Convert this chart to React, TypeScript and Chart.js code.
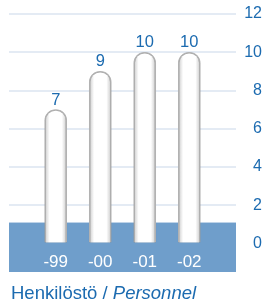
import React, { useEffect, useRef } from "react";
import { Chart, registerables } from "chart.js";

Chart.register(...registerables);

const categories = ["-99", "-00", "-01", "-02"];
const values = [7, 9, 10, 10];
const yTicks = [0, 2, 4, 6, 8, 10, 12];
const bandTopValue = 1.1;

const BLUE_TEXT = "#1c6bb0";
const BAND = "#6f9ecb";
const GRID = "#e4ebf4";
const FONT = "'Liberation Sans', Arial, sans-serif";

const bandPlugin = {
  id: "band",
  beforeDatasetsDraw(chart: any) {
    const { ctx, chartArea, scales } = chart;
    const top = scales.y.getPixelForValue(bandTopValue);
    ctx.save();
    ctx.fillStyle = BAND;
    ctx.fillRect(chartArea.left, top, chartArea.right - chartArea.left, 272 - top);
    ctx.restore();
  },
  beforeDatasetDraw(chart: any) {
    const ctx = chart.ctx;
    ctx.save();
    ctx.shadowColor = "rgba(0,0,0,0.3)";
    ctx.shadowBlur = 2;
  },
  afterDatasetDraw(chart: any) {
    chart.ctx.restore();
  },
  afterDatasetsDraw(chart: any) {
    const { ctx } = chart;
    const meta = chart.getDatasetMeta(0);
    ctx.save();
    ctx.fillStyle = BLUE_TEXT;
    ctx.font = `16.5px ${FONT}`;
    ctx.textAlign = "center";
    ctx.textBaseline = "alphabetic";
    meta.data.forEach((el: any, i: number) => {
      ctx.fillText(String(values[i]), el.x, el.y - 5);
    });
    ctx.restore();
  },
};

export default function App() {
  const ref = useRef<HTMLCanvasElement>(null);
  useEffect(() => {
    document.body.style.margin = "0";
    const chart = new Chart(ref.current!, {
      type: "bar",
      data: {
        datasets: [
          {
            data: values.map((v, i) => ({ x: i, y: v })),
            backgroundColor: (c: any) => {
              const chartRef = c.chart;
              const xs = chartRef.scales && chartRef.scales.x;
              if (!xs || !c.parsed) return "#ffffff";
              const cx = xs.getPixelForValue(c.parsed.x);
              if (!isFinite(cx)) return "#ffffff";
              const g = chartRef.ctx.createLinearGradient(cx - 11, 0, cx + 11, 0);
              g.addColorStop(0, "#c9c9c9");
              g.addColorStop(0.22, "#ffffff");
              g.addColorStop(0.78, "#ffffff");
              g.addColorStop(1, "#c9c9c9");
              return g;
            },
            borderColor: "#bcbcbc",
            borderWidth: 1.5,
            borderSkipped: "bottom",
            borderRadius: { topLeft: 11, topRight: 11, bottomLeft: 0, bottomRight: 0 },
            barThickness: 22,
          },
        ],
      },
      options: {
        animation: false,
        responsive: false,
        maintainAspectRatio: false,
        layout: { padding: { left: 9, right: 2, top: 14, bottom: 5 } },
        plugins: { legend: { display: false }, tooltip: { enabled: false }, title: { display: false } },
        scales: {
          x: {
            type: "linear",
            min: -1.05,
            max: 4.05,
            offset: false,
            grid: { display: false, drawTicks: false },
            border: { display: false },
            afterBuildTicks: (s: any) => {
              s.ticks = categories.map((_, i) => ({ value: i }));
            },
            ticks: {
              z: 1,
              color: "#ffffff",
              padding: 9,
              font: { size: 17, family: FONT },
              callback: (v: any) => categories[v as number] ?? "",
              maxRotation: 0,
              autoSkip: false,
            },
          },
          y: {
            position: "right",
            min: 0,
            max: 12,
            afterBuildTicks: (s: any) => {
              s.ticks = yTicks.map((v) => ({ value: v }));
            },
            afterFit: (s: any) => {
              s.width = 26;
            },
            grid: {
              color: (c: any) => (c.tick && c.tick.value === 0 ? "rgba(0,0,0,0)" : GRID),
              lineWidth: 2,
              drawTicks: false,
            },
            border: { display: false },
            ticks: {
              color: BLUE_TEXT,
              padding: 0,
              crossAlign: "far",
              font: { size: 16, family: FONT },
            },
          },
        },
      },
      plugins: [bandPlugin],
    } as any);
    return () => chart.destroy();
  }, []);
  return (
    <div style={{ position: "relative", width: 264, height: 305, background: "#fff" }}>
      <canvas ref={ref} width={264} height={287} style={{ display: "block", width: 264, height: 287 }} />
      <div
        style={{
          position: "absolute",
          left: 11,
          top: 282,
          fontFamily: FONT,
          fontSize: 18.5,
          color: BLUE_TEXT,
          whiteSpace: "nowrap",
        }}
      >
        Henkilöstö / <i>Personnel</i>
      </div>
    </div>
  );
}
